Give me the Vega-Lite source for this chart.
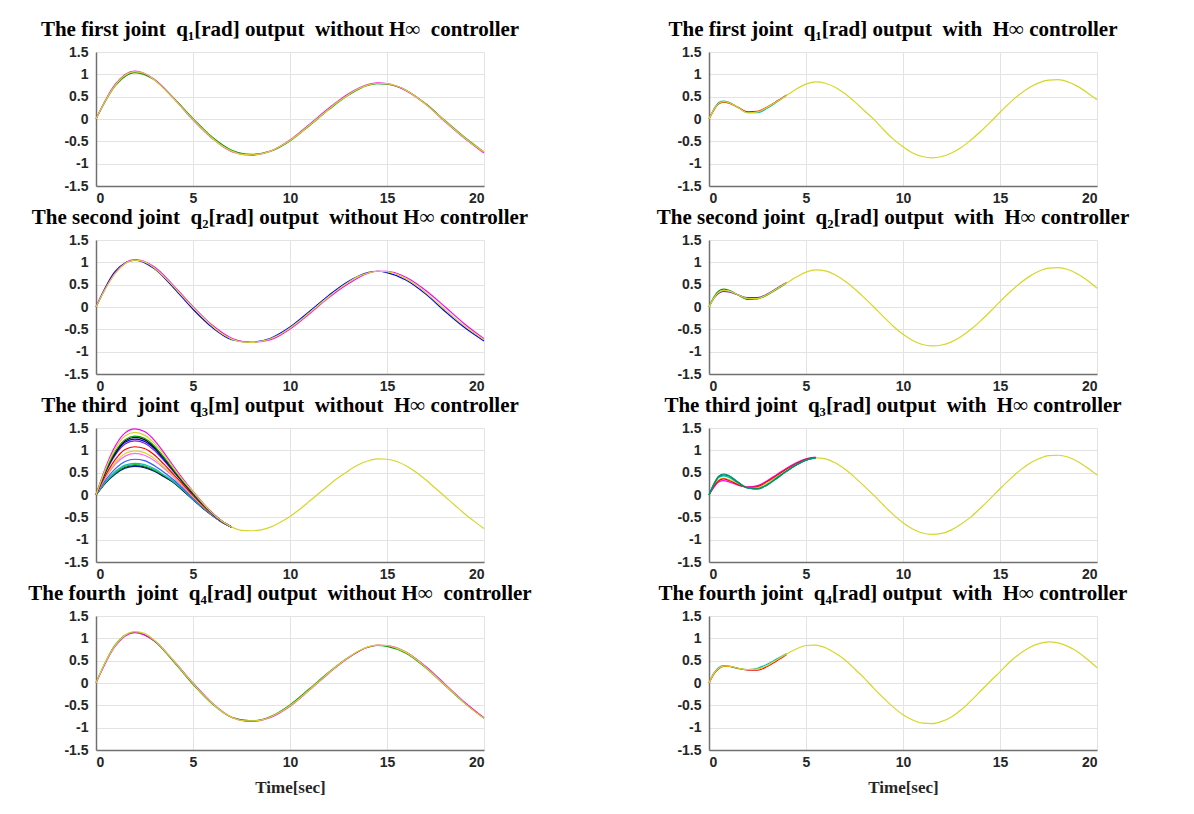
{
"$schema": "https://vega.github.io/schema/vega-lite/v6.json",
"background": "white",
"padding": {"left": 28, "top": 19, "right": 5, "bottom": 5},
"config": {
  "font": "Liberation Sans",
  "view": {"stroke": null},
  "title": {"font": "Liberation Serif", "fontWeight": "bold", "fontSize": 21, "color": "#000000", "offset": 5, "anchor": "middle", "dx": -10},
  "axis": {"labelFont": "Liberation Sans", "labelFontWeight": "bold", "labelFontSize": 14, "labelColor": "#262626", "domainColor": "#707070", "domainWidth": 1.5, "gridColor": "#e3e3e3", "gridWidth": 1, "tickSize": 0, "titleFont": "Liberation Serif", "titleFontWeight": "bold", "titleFontSize": 17, "titleColor": "#262626"},
  "axisX": {"labelPadding": 5, "titlePadding": 10},
  "axisY": {"labelPadding": 8},
  "line": {"strokeWidth": 1.2, "interpolate": "monotone"}
},
"datasets": {
"L1": [
{"s":"g","t":0,"v":0},{"s":"g","t":1,"v":0.75},{"s":"g","t":2,"v":1.04},{"s":"g","t":3,"v":0.88},{"s":"g","t":4,"v":0.47},{"s":"g","t":5,"v":0.01},{"s":"g","t":6,"v":-0.41},{"s":"g","t":7,"v":-0.70},{"s":"g","t":8,"v":-0.79},{"s":"g","t":9,"v":-0.72},{"s":"g","t":10,"v":-0.49},{"s":"g","t":11,"v":-0.15},{"s":"g","t":12,"v":0.21},{"s":"g","t":13,"v":0.53},{"s":"g","t":14,"v":0.75},{"s":"g","t":14.5,"v":0.79},{"s":"g","t":15,"v":0.78},{"s":"g","t":16,"v":0.64},{"s":"g","t":17,"v":0.34},{"s":"g","t":18,"v":-0.04},{"s":"g","t":19,"v":-0.41},{"s":"g","t":20,"v":-0.74},
{"s":"m","t":0,"v":0},{"s":"m","t":1,"v":0.78},{"s":"m","t":2,"v":1.07},{"s":"m","t":3,"v":0.89},{"s":"m","t":4,"v":0.46},{"s":"m","t":5,"v":-0.02},{"s":"m","t":6,"v":-0.44},{"s":"m","t":7,"v":-0.73},{"s":"m","t":8,"v":-0.81},{"s":"m","t":9,"v":-0.72},{"s":"m","t":10,"v":-0.47},{"s":"m","t":11,"v":-0.12},{"s":"m","t":12,"v":0.24},{"s":"m","t":13,"v":0.56},{"s":"m","t":14,"v":0.77},{"s":"m","t":14.5,"v":0.81},{"s":"m","t":15,"v":0.79},{"s":"m","t":16,"v":0.63},{"s":"m","t":17,"v":0.33},{"s":"m","t":18,"v":-0.06},{"s":"m","t":19,"v":-0.43},{"s":"m","t":20,"v":-0.76},
{"s":"y","t":0,"v":0},{"s":"y","t":0.5,"v":0.42},{"s":"y","t":1,"v":0.76},{"s":"y","t":1.5,"v":0.98},{"s":"y","t":2,"v":1.06},{"s":"y","t":2.5,"v":1.02},{"s":"y","t":3,"v":0.88},{"s":"y","t":3.5,"v":0.68},{"s":"y","t":4,"v":0.46},{"s":"y","t":4.5,"v":0.22},{"s":"y","t":5,"v":-0.01},{"s":"y","t":5.5,"v":-0.23},{"s":"y","t":6,"v":-0.43},{"s":"y","t":6.5,"v":-0.60},{"s":"y","t":7,"v":-0.72},{"s":"y","t":7.5,"v":-0.79},{"s":"y","t":8,"v":-0.80},{"s":"y","t":8.5,"v":-0.78},{"s":"y","t":9,"v":-0.72},{"s":"y","t":9.5,"v":-0.61},{"s":"y","t":10,"v":-0.48},{"s":"y","t":10.5,"v":-0.32},{"s":"y","t":11,"v":-0.14},{"s":"y","t":11.5,"v":0.04},{"s":"y","t":12,"v":0.22},{"s":"y","t":12.5,"v":0.39},{"s":"y","t":13,"v":0.54},{"s":"y","t":13.5,"v":0.67},{"s":"y","t":14,"v":0.76},{"s":"y","t":14.5,"v":0.80},{"s":"y","t":15,"v":0.79},{"s":"y","t":15.5,"v":0.74},{"s":"y","t":16,"v":0.64},{"s":"y","t":16.5,"v":0.50},{"s":"y","t":17,"v":0.33},{"s":"y","t":17.5,"v":0.14},{"s":"y","t":18,"v":-0.05},{"s":"y","t":18.5,"v":-0.24},{"s":"y","t":19,"v":-0.42},{"s":"y","t":19.5,"v":-0.59},{"s":"y","t":20,"v":-0.74}
],
"L2": [
{"s":"b","t":0,"v":0},{"s":"b","t":1,"v":0.80},{"s":"b","t":2,"v":1.05},{"s":"b","t":3,"v":0.86},{"s":"b","t":4,"v":0.43},{"s":"b","t":5,"v":-0.05},{"s":"b","t":6,"v":-0.46},{"s":"b","t":7,"v":-0.73},{"s":"b","t":8,"v":-0.79},{"s":"b","t":9,"v":-0.70},{"s":"b","t":10,"v":-0.45},{"s":"b","t":11,"v":-0.10},{"s":"b","t":12,"v":0.26},{"s":"b","t":13,"v":0.57},{"s":"b","t":14,"v":0.77},{"s":"b","t":14.5,"v":0.80},{"s":"b","t":15,"v":0.77},{"s":"b","t":16,"v":0.60},{"s":"b","t":17,"v":0.29},{"s":"b","t":18,"v":-0.10},{"s":"b","t":19,"v":-0.46},{"s":"b","t":20,"v":-0.76},
{"s":"m","t":0,"v":0},{"s":"m","t":1,"v":0.77},{"s":"m","t":2,"v":1.06},{"s":"m","t":3,"v":0.90},{"s":"m","t":4,"v":0.48},{"s":"m","t":5,"v":0.01},{"s":"m","t":6,"v":-0.41},{"s":"m","t":7,"v":-0.70},{"s":"m","t":8,"v":-0.79},{"s":"m","t":9,"v":-0.73},{"s":"m","t":10,"v":-0.49},{"s":"m","t":11,"v":-0.15},{"s":"m","t":12,"v":0.21},{"s":"m","t":13,"v":0.52},{"s":"m","t":14,"v":0.75},{"s":"m","t":14.5,"v":0.80},{"s":"m","t":15,"v":0.80},{"s":"m","t":16,"v":0.66},{"s":"m","t":17,"v":0.37},{"s":"m","t":18,"v":0.0},{"s":"m","t":19,"v":-0.38},{"s":"m","t":20,"v":-0.71},
{"s":"y","t":0,"v":0},{"s":"y","t":0.5,"v":0.42},{"s":"y","t":1,"v":0.76},{"s":"y","t":1.5,"v":0.97},{"s":"y","t":2,"v":1.05},{"s":"y","t":2.5,"v":1.01},{"s":"y","t":3,"v":0.88},{"s":"y","t":3.5,"v":0.68},{"s":"y","t":4,"v":0.46},{"s":"y","t":4.5,"v":0.22},{"s":"y","t":5,"v":-0.01},{"s":"y","t":5.5,"v":-0.23},{"s":"y","t":6,"v":-0.43},{"s":"y","t":6.5,"v":-0.60},{"s":"y","t":7,"v":-0.72},{"s":"y","t":7.5,"v":-0.78},{"s":"y","t":8,"v":-0.79},{"s":"y","t":8.5,"v":-0.77},{"s":"y","t":9,"v":-0.71},{"s":"y","t":9.5,"v":-0.61},{"s":"y","t":10,"v":-0.47},{"s":"y","t":10.5,"v":-0.31},{"s":"y","t":11,"v":-0.13},{"s":"y","t":11.5,"v":0.05},{"s":"y","t":12,"v":0.23},{"s":"y","t":12.5,"v":0.40},{"s":"y","t":13,"v":0.55},{"s":"y","t":13.5,"v":0.68},{"s":"y","t":14,"v":0.76},{"s":"y","t":14.5,"v":0.80},{"s":"y","t":15,"v":0.79},{"s":"y","t":15.5,"v":0.73},{"s":"y","t":16,"v":0.63},{"s":"y","t":16.5,"v":0.49},{"s":"y","t":17,"v":0.32},{"s":"y","t":17.5,"v":0.13},{"s":"y","t":18,"v":-0.06},{"s":"y","t":18.5,"v":-0.25},{"s":"y","t":19,"v":-0.42},{"s":"y","t":19.5,"v":-0.58},{"s":"y","t":20,"v":-0.73}
],
"L3": [
{"s":"b3","t":0,"v":0},{"s":"b3","t":0.5,"v":0.27},{"s":"b3","t":1,"v":0.47},{"s":"b3","t":1.5,"v":0.60},{"s":"b3","t":2,"v":0.64},{"s":"b3","t":2.5,"v":0.61},{"s":"b3","t":3,"v":0.53},{"s":"b3","t":3.5,"v":0.41},{"s":"b3","t":4,"v":0.28},{"s":"b3","t":4.5,"v":0.09},{"s":"b3","t":5,"v":-0.10},{"s":"b3","t":5.5,"v":-0.29},{"s":"b3","t":6,"v":-0.46},{"s":"b3","t":6.5,"v":-0.61},{"s":"b3","t":7,"v":-0.72},
{"s":"k2","t":0,"v":0},{"s":"k2","t":0.5,"v":0.28},{"s":"k2","t":1,"v":0.49},{"s":"k2","t":1.5,"v":0.62},{"s":"k2","t":2,"v":0.66},{"s":"k2","t":2.5,"v":0.63},{"s":"k2","t":3,"v":0.55},{"s":"k2","t":3.5,"v":0.42},{"s":"k2","t":4,"v":0.28},{"s":"k2","t":4.5,"v":0.10},{"s":"k2","t":5,"v":-0.10},{"s":"k2","t":5.5,"v":-0.29},{"s":"k2","t":6,"v":-0.46},{"s":"k2","t":6.5,"v":-0.61},{"s":"k2","t":7,"v":-0.72},
{"s":"g2","t":0,"v":0},{"s":"g2","t":0.5,"v":0.29},{"s":"g2","t":1,"v":0.50},{"s":"g2","t":1.5,"v":0.64},{"s":"g2","t":2,"v":0.68},{"s":"g2","t":2.5,"v":0.65},{"s":"g2","t":3,"v":0.56},{"s":"g2","t":3.5,"v":0.44},{"s":"g2","t":4,"v":0.29},{"s":"g2","t":4.5,"v":0.11},{"s":"g2","t":5,"v":-0.09},{"s":"g2","t":5.5,"v":-0.28},{"s":"g2","t":6,"v":-0.46},{"s":"g2","t":6.5,"v":-0.61},{"s":"g2","t":7,"v":-0.72},
{"s":"c","t":0,"v":0},{"s":"c","t":0.5,"v":0.30},{"s":"c","t":1,"v":0.53},{"s":"c","t":1.5,"v":0.67},{"s":"c","t":2,"v":0.71},{"s":"c","t":2.5,"v":0.68},{"s":"c","t":3,"v":0.59},{"s":"c","t":3.5,"v":0.45},{"s":"c","t":4,"v":0.31},{"s":"c","t":4.5,"v":0.12},{"s":"c","t":5,"v":-0.09},{"s":"c","t":5.5,"v":-0.28},{"s":"c","t":6,"v":-0.45},{"s":"c","t":6.5,"v":-0.61},{"s":"c","t":7,"v":-0.72},
{"s":"b2","t":0,"v":0},{"s":"b2","t":0.5,"v":0.34},{"s":"b2","t":1,"v":0.59},{"s":"b2","t":1.5,"v":0.75},{"s":"b2","t":2,"v":0.80},{"s":"b2","t":2.5,"v":0.77},{"s":"b2","t":3,"v":0.66},{"s":"b2","t":3.5,"v":0.51},{"s":"b2","t":4,"v":0.34},{"s":"b2","t":4.5,"v":0.14},{"s":"b2","t":5,"v":-0.07},{"s":"b2","t":5.5,"v":-0.27},{"s":"b2","t":6,"v":-0.45},{"s":"b2","t":6.5,"v":-0.61},{"s":"b2","t":7,"v":-0.72},
{"s":"m2","t":0,"v":0},{"s":"m2","t":0.5,"v":0.39},{"s":"m2","t":1,"v":0.69},{"s":"m2","t":1.5,"v":0.87},{"s":"m2","t":2,"v":0.93},{"s":"m2","t":2.5,"v":0.89},{"s":"m2","t":3,"v":0.77},{"s":"m2","t":3.5,"v":0.60},{"s":"m2","t":4,"v":0.40},{"s":"m2","t":4.5,"v":0.18},{"s":"m2","t":5,"v":-0.04},{"s":"m2","t":5.5,"v":-0.25},{"s":"m2","t":6,"v":-0.44},{"s":"m2","t":6.5,"v":-0.60},{"s":"m2","t":7,"v":-0.72},
{"s":"y2","t":0,"v":0},{"s":"y2","t":0.5,"v":0.42},{"s":"y2","t":1,"v":0.73},{"s":"y2","t":1.5,"v":0.93},{"s":"y2","t":2,"v":0.99},{"s":"y2","t":2.5,"v":0.95},{"s":"y2","t":3,"v":0.82},{"s":"y2","t":3.5,"v":0.63},{"s":"y2","t":4,"v":0.43},{"s":"y2","t":4.5,"v":0.20},{"s":"y2","t":5,"v":-0.03},{"s":"y2","t":5.5,"v":-0.24},{"s":"y2","t":6,"v":-0.43},{"s":"y2","t":6.5,"v":-0.60},{"s":"y2","t":7,"v":-0.72},
{"s":"r","t":0,"v":0},{"s":"r","t":0.5,"v":0.45},{"s":"r","t":1,"v":0.80},{"s":"r","t":1.5,"v":1.02},{"s":"r","t":2,"v":1.08},{"s":"r","t":2.5,"v":1.04},{"s":"r","t":3,"v":0.90},{"s":"r","t":3.5,"v":0.69},{"s":"r","t":4,"v":0.46},{"s":"r","t":4.5,"v":0.23},{"s":"r","t":5,"v":-0.01},{"s":"r","t":5.5,"v":-0.23},{"s":"r","t":6,"v":-0.43},{"s":"r","t":6.5,"v":-0.60},{"s":"r","t":7,"v":-0.72},
{"s":"p","t":0,"v":0},{"s":"p","t":0.5,"v":0.51},{"s":"p","t":1,"v":0.90},{"s":"p","t":1.5,"v":1.14},{"s":"p","t":2,"v":1.21},{"s":"p","t":2.5,"v":1.16},{"s":"p","t":3,"v":1.00},{"s":"p","t":3.5,"v":0.77},{"s":"p","t":4,"v":0.52},{"s":"p","t":4.5,"v":0.27},{"s":"p","t":5,"v":0.02},{"s":"p","t":5.5,"v":-0.21},{"s":"p","t":6,"v":-0.42},{"s":"p","t":6.5,"v":-0.60},{"s":"p","t":7,"v":-0.72},
{"s":"b","t":0,"v":0},{"s":"b","t":0.5,"v":0.53},{"s":"b","t":1,"v":0.93},{"s":"b","t":1.5,"v":1.18},{"s":"b","t":2,"v":1.25},{"s":"b","t":2.5,"v":1.20},{"s":"b","t":3,"v":1.04},{"s":"b","t":3.5,"v":0.80},{"s":"b","t":4,"v":0.54},{"s":"b","t":4.5,"v":0.28},{"s":"b","t":5,"v":0.03},{"s":"b","t":5.5,"v":-0.20},{"s":"b","t":6,"v":-0.42},{"s":"b","t":6.5,"v":-0.60},{"s":"b","t":7,"v":-0.72},
{"s":"k","t":0,"v":0},{"s":"k","t":0.5,"v":0.54},{"s":"k","t":1,"v":0.95},{"s":"k","t":1.5,"v":1.21},{"s":"k","t":2,"v":1.29},{"s":"k","t":2.5,"v":1.24},{"s":"k","t":3,"v":1.07},{"s":"k","t":3.5,"v":0.83},{"s":"k","t":4,"v":0.55},{"s":"k","t":4.5,"v":0.29},{"s":"k","t":5,"v":0.04},{"s":"k","t":5.5,"v":-0.20},{"s":"k","t":6,"v":-0.41},{"s":"k","t":6.5,"v":-0.59},{"s":"k","t":7,"v":-0.72},
{"s":"g","t":0,"v":0},{"s":"g","t":0.5,"v":0.55},{"s":"g","t":1,"v":0.98},{"s":"g","t":1.5,"v":1.24},{"s":"g","t":2,"v":1.32},{"s":"g","t":2.5,"v":1.27},{"s":"g","t":3,"v":1.10},{"s":"g","t":3.5,"v":0.84},{"s":"g","t":4,"v":0.57},{"s":"g","t":4.5,"v":0.30},{"s":"g","t":5,"v":0.05},{"s":"g","t":5.5,"v":-0.19},{"s":"g","t":6,"v":-0.41},{"s":"g","t":6.5,"v":-0.59},{"s":"g","t":7,"v":-0.72},
{"s":"m","t":0,"v":0},{"s":"m","t":0.5,"v":0.62},{"s":"m","t":1,"v":1.10},{"s":"m","t":1.5,"v":1.39},{"s":"m","t":2,"v":1.48},{"s":"m","t":2.5,"v":1.42},{"s":"m","t":3,"v":1.23},{"s":"m","t":3.5,"v":0.95},{"s":"m","t":4,"v":0.64},{"s":"m","t":4.5,"v":0.35},{"s":"m","t":5,"v":0.08},{"s":"m","t":5.5,"v":-0.17},{"s":"m","t":6,"v":-0.40},{"s":"m","t":6.5,"v":-0.59},{"s":"m","t":7,"v":-0.72},
{"s":"y","t":0,"v":0},{"s":"y","t":0.5,"v":0.59},{"s":"y","t":1,"v":1.04},{"s":"y","t":1.5,"v":1.32},{"s":"y","t":2,"v":1.40},{"s":"y","t":2.5,"v":1.34},{"s":"y","t":3,"v":1.16},{"s":"y","t":3.5,"v":0.90},{"s":"y","t":4,"v":0.60},{"s":"y","t":4.5,"v":0.32},{"s":"y","t":5,"v":0.07},{"s":"y","t":5.5,"v":-0.18},{"s":"y","t":6,"v":-0.41},{"s":"y","t":6.5,"v":-0.59},{"s":"y","t":7,"v":-0.72},{"s":"y","t":7.5,"v":-0.79},{"s":"y","t":8,"v":-0.80},{"s":"y","t":8.5,"v":-0.78},{"s":"y","t":9,"v":-0.72},{"s":"y","t":9.5,"v":-0.61},{"s":"y","t":10,"v":-0.48},{"s":"y","t":10.5,"v":-0.32},{"s":"y","t":11,"v":-0.14},{"s":"y","t":11.5,"v":0.04},{"s":"y","t":12,"v":0.22},{"s":"y","t":12.5,"v":0.39},{"s":"y","t":13,"v":0.54},{"s":"y","t":13.5,"v":0.67},{"s":"y","t":14,"v":0.76},{"s":"y","t":14.5,"v":0.81},{"s":"y","t":15,"v":0.80},{"s":"y","t":15.5,"v":0.75},{"s":"y","t":16,"v":0.65},{"s":"y","t":16.5,"v":0.51},{"s":"y","t":17,"v":0.34},{"s":"y","t":17.5,"v":0.15},{"s":"y","t":18,"v":-0.04},{"s":"y","t":18.5,"v":-0.23},{"s":"y","t":19,"v":-0.42},{"s":"y","t":19.5,"v":-0.59},{"s":"y","t":20,"v":-0.75}
],
"L4": [
{"s":"g","t":0,"v":0},{"s":"g","t":1,"v":0.86},{"s":"g","t":2,"v":1.14},{"s":"g","t":3,"v":0.94},{"s":"g","t":4,"v":0.48},{"s":"g","t":5,"v":-0.03},{"s":"g","t":6,"v":-0.47},{"s":"g","t":7,"v":-0.77},{"s":"g","t":8,"v":-0.85},{"s":"g","t":9,"v":-0.75},{"s":"g","t":10,"v":-0.49},{"s":"g","t":11,"v":-0.13},{"s":"g","t":12,"v":0.24},{"s":"g","t":13,"v":0.57},{"s":"g","t":14,"v":0.80},{"s":"g","t":14.5,"v":0.84},{"s":"g","t":15,"v":0.82},{"s":"g","t":16,"v":0.66},{"s":"g","t":17,"v":0.34},{"s":"g","t":18,"v":-0.06},{"s":"g","t":19,"v":-0.45},{"s":"g","t":20,"v":-0.79},
{"s":"m","t":0,"v":0},{"s":"m","t":1,"v":0.83},{"s":"m","t":2,"v":1.13},{"s":"m","t":3,"v":0.95},{"s":"m","t":4,"v":0.50},{"s":"m","t":5,"v":0.0},{"s":"m","t":6,"v":-0.45},{"s":"m","t":7,"v":-0.77},{"s":"m","t":8,"v":-0.86},{"s":"m","t":9,"v":-0.77},{"s":"m","t":10,"v":-0.52},{"s":"m","t":11,"v":-0.16},{"s":"m","t":12,"v":0.22},{"s":"m","t":13,"v":0.56},{"s":"m","t":14,"v":0.80},{"s":"m","t":14.5,"v":0.85},{"s":"m","t":15,"v":0.84},{"s":"m","t":16,"v":0.69},{"s":"m","t":17,"v":0.37},{"s":"m","t":18,"v":-0.03},{"s":"m","t":19,"v":-0.43},{"s":"m","t":20,"v":-0.78},
{"s":"y","t":0,"v":0},{"s":"y","t":0.5,"v":0.48},{"s":"y","t":1,"v":0.85},{"s":"y","t":1.5,"v":1.07},{"s":"y","t":2,"v":1.15},{"s":"y","t":2.5,"v":1.11},{"s":"y","t":3,"v":0.96},{"s":"y","t":3.5,"v":0.74},{"s":"y","t":4,"v":0.50},{"s":"y","t":4.5,"v":0.24},{"s":"y","t":5,"v":-0.01},{"s":"y","t":5.5,"v":-0.25},{"s":"y","t":6,"v":-0.46},{"s":"y","t":6.5,"v":-0.64},{"s":"y","t":7,"v":-0.77},{"s":"y","t":7.5,"v":-0.84},{"s":"y","t":8,"v":-0.85},{"s":"y","t":8.5,"v":-0.83},{"s":"y","t":9,"v":-0.76},{"s":"y","t":9.5,"v":-0.65},{"s":"y","t":10,"v":-0.51},{"s":"y","t":10.5,"v":-0.34},{"s":"y","t":11,"v":-0.15},{"s":"y","t":11.5,"v":0.04},{"s":"y","t":12,"v":0.23},{"s":"y","t":12.5,"v":0.41},{"s":"y","t":13,"v":0.57},{"s":"y","t":13.5,"v":0.71},{"s":"y","t":14,"v":0.81},{"s":"y","t":14.5,"v":0.85},{"s":"y","t":15,"v":0.84},{"s":"y","t":15.5,"v":0.78},{"s":"y","t":16,"v":0.68},{"s":"y","t":16.5,"v":0.53},{"s":"y","t":17,"v":0.35},{"s":"y","t":17.5,"v":0.15},{"s":"y","t":18,"v":-0.05},{"s":"y","t":18.5,"v":-0.25},{"s":"y","t":19,"v":-0.45},{"s":"y","t":19.5,"v":-0.63},{"s":"y","t":20,"v":-0.79}
],
"R1": [
{"s":"c","t":0,"v":0},{"s":"c","t":0.25,"v":0.22},{"s":"c","t":0.5,"v":0.37},{"s":"c","t":0.75,"v":0.40},{"s":"c","t":1,"v":0.38},{"s":"c","t":1.5,"v":0.26},{"s":"c","t":2,"v":0.14},{"s":"c","t":2.5,"v":0.14},{"s":"c","t":3,"v":0.24},{"s":"c","t":3.5,"v":0.38},{"s":"c","t":4,"v":0.53},
{"s":"r","t":0,"v":0},{"s":"r","t":0.25,"v":0.20},{"s":"r","t":0.5,"v":0.34},{"s":"r","t":0.75,"v":0.38},{"s":"r","t":1,"v":0.36},{"s":"r","t":1.5,"v":0.26},{"s":"r","t":2,"v":0.16},{"s":"r","t":2.5,"v":0.17},{"s":"r","t":3,"v":0.27},{"s":"r","t":3.5,"v":0.40},{"s":"r","t":4,"v":0.54},
{"s":"y","t":0,"v":0},{"s":"y","t":0.25,"v":0.21},{"s":"y","t":0.5,"v":0.35},{"s":"y","t":0.75,"v":0.39},{"s":"y","t":1,"v":0.37},{"s":"y","t":1.5,"v":0.26},{"s":"y","t":2,"v":0.14},{"s":"y","t":2.5,"v":0.16},{"s":"y","t":3,"v":0.26},{"s":"y","t":3.5,"v":0.39},{"s":"y","t":4,"v":0.53},{"s":"y","t":4.5,"v":0.67},{"s":"y","t":5,"v":0.78},{"s":"y","t":5.5,"v":0.83},{"s":"y","t":6,"v":0.80},{"s":"y","t":6.5,"v":0.71},{"s":"y","t":7,"v":0.57},{"s":"y","t":7.5,"v":0.39},{"s":"y","t":8,"v":0.19},{"s":"y","t":8.5,"v":-0.01},{"s":"y","t":9,"v":-0.24},{"s":"y","t":9.5,"v":-0.45},{"s":"y","t":10,"v":-0.62},{"s":"y","t":10.5,"v":-0.76},{"s":"y","t":11,"v":-0.84},{"s":"y","t":11.5,"v":-0.87},{"s":"y","t":12,"v":-0.84},{"s":"y","t":12.5,"v":-0.76},{"s":"y","t":13,"v":-0.64},{"s":"y","t":13.5,"v":-0.47},{"s":"y","t":14,"v":-0.28},{"s":"y","t":14.5,"v":-0.07},{"s":"y","t":15,"v":0.15},{"s":"y","t":15.5,"v":0.36},{"s":"y","t":16,"v":0.55},{"s":"y","t":16.5,"v":0.70},{"s":"y","t":17,"v":0.81},{"s":"y","t":17.5,"v":0.87},{"s":"y","t":18,"v":0.88},{"s":"y","t":18.5,"v":0.83},{"s":"y","t":19,"v":0.73},{"s":"y","t":19.5,"v":0.59},{"s":"y","t":20,"v":0.43}
],
"R2": [
{"s":"g","t":0,"v":0},{"s":"g","t":0.25,"v":0.22},{"s":"g","t":0.5,"v":0.36},{"s":"g","t":0.75,"v":0.40},{"s":"g","t":1,"v":0.38},{"s":"g","t":1.5,"v":0.27},{"s":"g","t":2,"v":0.17},{"s":"g","t":2.5,"v":0.18},{"s":"g","t":3,"v":0.27},{"s":"g","t":3.5,"v":0.40},{"s":"g","t":4,"v":0.54},
{"s":"p","t":0,"v":0},{"s":"p","t":0.25,"v":0.19},{"s":"p","t":0.5,"v":0.31},{"s":"p","t":0.75,"v":0.35},{"s":"p","t":1,"v":0.34},{"s":"p","t":1.5,"v":0.27},{"s":"p","t":2,"v":0.21},{"s":"p","t":2.5,"v":0.21},{"s":"p","t":3,"v":0.29},{"s":"p","t":3.5,"v":0.42},{"s":"p","t":4,"v":0.55},
{"s":"y","t":0,"v":0},{"s":"y","t":0.25,"v":0.20},{"s":"y","t":0.5,"v":0.33},{"s":"y","t":0.75,"v":0.37},{"s":"y","t":1,"v":0.36},{"s":"y","t":1.5,"v":0.27},{"s":"y","t":2,"v":0.19},{"s":"y","t":2.5,"v":0.19},{"s":"y","t":3,"v":0.28},{"s":"y","t":3.5,"v":0.41},{"s":"y","t":4,"v":0.54},{"s":"y","t":4.5,"v":0.67},{"s":"y","t":5,"v":0.78},{"s":"y","t":5.5,"v":0.83},{"s":"y","t":6,"v":0.81},{"s":"y","t":6.5,"v":0.72},{"s":"y","t":7,"v":0.58},{"s":"y","t":7.5,"v":0.41},{"s":"y","t":8,"v":0.21},{"s":"y","t":8.5,"v":0.0},{"s":"y","t":9,"v":-0.22},{"s":"y","t":9.5,"v":-0.43},{"s":"y","t":10,"v":-0.61},{"s":"y","t":10.5,"v":-0.75},{"s":"y","t":11,"v":-0.84},{"s":"y","t":11.5,"v":-0.87},{"s":"y","t":12,"v":-0.85},{"s":"y","t":12.5,"v":-0.78},{"s":"y","t":13,"v":-0.66},{"s":"y","t":13.5,"v":-0.50},{"s":"y","t":14,"v":-0.31},{"s":"y","t":14.5,"v":-0.10},{"s":"y","t":15,"v":0.12},{"s":"y","t":15.5,"v":0.33},{"s":"y","t":16,"v":0.52},{"s":"y","t":16.5,"v":0.68},{"s":"y","t":17,"v":0.80},{"s":"y","t":17.5,"v":0.87},{"s":"y","t":18,"v":0.88},{"s":"y","t":18.5,"v":0.84},{"s":"y","t":19,"v":0.74},{"s":"y","t":19.5,"v":0.60},{"s":"y","t":20,"v":0.42}
],
"R3": [
{"s":"y","t":0,"v":0},{"s":"y","t":0.25,"v":0.20},{"s":"y","t":0.5,"v":0.34},{"s":"y","t":0.75,"v":0.38},{"s":"y","t":1,"v":0.35},{"s":"y","t":1.5,"v":0.25},{"s":"y","t":2,"v":0.17},{"s":"y","t":2.5,"v":0.17},{"s":"y","t":3,"v":0.27},{"s":"y","t":3.5,"v":0.41},{"s":"y","t":4,"v":0.55},{"s":"y","t":4.5,"v":0.68},{"s":"y","t":5,"v":0.78},{"s":"y","t":5.5,"v":0.83},{"s":"y","t":6,"v":0.81},{"s":"y","t":6.5,"v":0.72},{"s":"y","t":7,"v":0.58},{"s":"y","t":7.5,"v":0.40},{"s":"y","t":8,"v":0.20},{"s":"y","t":8.5,"v":-0.01},{"s":"y","t":9,"v":-0.23},{"s":"y","t":9.5,"v":-0.44},{"s":"y","t":10,"v":-0.62},{"s":"y","t":10.5,"v":-0.76},{"s":"y","t":11,"v":-0.85},{"s":"y","t":11.5,"v":-0.88},{"s":"y","t":12,"v":-0.86},{"s":"y","t":12.5,"v":-0.78},{"s":"y","t":13,"v":-0.65},{"s":"y","t":13.5,"v":-0.49},{"s":"y","t":14,"v":-0.29},{"s":"y","t":14.5,"v":-0.08},{"s":"y","t":15,"v":0.14},{"s":"y","t":15.5,"v":0.35},{"s":"y","t":16,"v":0.54},{"s":"y","t":16.5,"v":0.70},{"s":"y","t":17,"v":0.81},{"s":"y","t":17.5,"v":0.88},{"s":"y","t":18,"v":0.89},{"s":"y","t":18.5,"v":0.85},{"s":"y","t":19,"v":0.75},{"s":"y","t":19.5,"v":0.61},{"s":"y","t":20,"v":0.45},
{"s":"m","t":0,"v":0},{"s":"m","t":0.25,"v":0.17},{"s":"m","t":0.5,"v":0.29},{"s":"m","t":0.75,"v":0.32},{"s":"m","t":1,"v":0.30},{"s":"m","t":1.5,"v":0.22},{"s":"m","t":2,"v":0.18},{"s":"m","t":2.5,"v":0.21},{"s":"m","t":3,"v":0.32},{"s":"m","t":3.5,"v":0.46},{"s":"m","t":4,"v":0.60},{"s":"m","t":4.5,"v":0.72},{"s":"m","t":5,"v":0.81},{"s":"m","t":5.5,"v":0.85},
{"s":"r","t":0,"v":0},{"s":"r","t":0.25,"v":0.19},{"s":"r","t":0.5,"v":0.32},{"s":"r","t":0.75,"v":0.36},{"s":"r","t":1,"v":0.33},{"s":"r","t":1.5,"v":0.23},{"s":"r","t":2,"v":0.17},{"s":"r","t":2.5,"v":0.19},{"s":"r","t":3,"v":0.30},{"s":"r","t":3.5,"v":0.44},{"s":"r","t":4,"v":0.58},{"s":"r","t":4.5,"v":0.70},{"s":"r","t":5,"v":0.80},{"s":"r","t":5.5,"v":0.84},
{"s":"c","t":0,"v":0},{"s":"c","t":0.25,"v":0.23},{"s":"c","t":0.5,"v":0.39},{"s":"c","t":0.75,"v":0.43},{"s":"c","t":1,"v":0.40},{"s":"c","t":1.5,"v":0.27},{"s":"c","t":2,"v":0.16},{"s":"c","t":2.5,"v":0.15},{"s":"c","t":3,"v":0.24},{"s":"c","t":3.5,"v":0.39},{"s":"c","t":4,"v":0.54},{"s":"c","t":4.5,"v":0.68},{"s":"c","t":5,"v":0.78},{"s":"c","t":5.5,"v":0.83},
{"s":"g","t":0,"v":0},{"s":"g","t":0.25,"v":0.24},{"s":"g","t":0.5,"v":0.41},{"s":"g","t":0.75,"v":0.45},{"s":"g","t":1,"v":0.43},{"s":"g","t":1.5,"v":0.28},{"s":"g","t":2,"v":0.16},{"s":"g","t":2.5,"v":0.14},{"s":"g","t":3,"v":0.23},{"s":"g","t":3.5,"v":0.38},{"s":"g","t":4,"v":0.53},{"s":"g","t":4.5,"v":0.67},{"s":"g","t":5,"v":0.78},{"s":"g","t":5.5,"v":0.83},
{"s":"t","t":0,"v":0},{"s":"t","t":0.25,"v":0.25},{"s":"t","t":0.5,"v":0.42},{"s":"t","t":0.75,"v":0.47},{"s":"t","t":1,"v":0.44},{"s":"t","t":1.5,"v":0.29},{"s":"t","t":2,"v":0.16},{"s":"t","t":2.5,"v":0.13},{"s":"t","t":3,"v":0.22},{"s":"t","t":3.5,"v":0.37},{"s":"t","t":4,"v":0.53},{"s":"t","t":4.5,"v":0.67},{"s":"t","t":5,"v":0.78},{"s":"t","t":5.5,"v":0.83}
],
"R4": [
{"s":"c","t":0,"v":0},{"s":"c","t":0.25,"v":0.22},{"s":"c","t":0.5,"v":0.35},{"s":"c","t":0.75,"v":0.39},{"s":"c","t":1,"v":0.38},{"s":"c","t":1.5,"v":0.32},{"s":"c","t":2,"v":0.30},{"s":"c","t":2.5,"v":0.33},{"s":"c","t":3,"v":0.42},{"s":"c","t":3.5,"v":0.54},{"s":"c","t":4,"v":0.66},
{"s":"r","t":0,"v":0},{"s":"r","t":0.25,"v":0.20},{"s":"r","t":0.5,"v":0.32},{"s":"r","t":0.75,"v":0.37},{"s":"r","t":1,"v":0.37},{"s":"r","t":1.5,"v":0.33},{"s":"r","t":2,"v":0.29},{"s":"r","t":2.5,"v":0.29},{"s":"r","t":3,"v":0.37},{"s":"r","t":3.5,"v":0.50},{"s":"r","t":4,"v":0.64},
{"s":"y","t":0,"v":0},{"s":"y","t":0.25,"v":0.21},{"s":"y","t":0.5,"v":0.33},{"s":"y","t":0.75,"v":0.38},{"s":"y","t":1,"v":0.38},{"s":"y","t":1.5,"v":0.33},{"s":"y","t":2,"v":0.30},{"s":"y","t":2.5,"v":0.31},{"s":"y","t":3,"v":0.39},{"s":"y","t":3.5,"v":0.52},{"s":"y","t":4,"v":0.65},{"s":"y","t":4.5,"v":0.76},{"s":"y","t":5,"v":0.84},{"s":"y","t":5.5,"v":0.85},{"s":"y","t":6,"v":0.79},{"s":"y","t":6.5,"v":0.67},{"s":"y","t":7,"v":0.52},{"s":"y","t":7.5,"v":0.32},{"s":"y","t":8,"v":0.11},{"s":"y","t":8.5,"v":-0.12},{"s":"y","t":9,"v":-0.34},{"s":"y","t":9.5,"v":-0.54},{"s":"y","t":10,"v":-0.71},{"s":"y","t":10.5,"v":-0.83},{"s":"y","t":11,"v":-0.90},{"s":"y","t":11.5,"v":-0.91},{"s":"y","t":12,"v":-0.86},{"s":"y","t":12.5,"v":-0.76},{"s":"y","t":13,"v":-0.60},{"s":"y","t":13.5,"v":-0.40},{"s":"y","t":14,"v":-0.18},{"s":"y","t":14.5,"v":0.04},{"s":"y","t":15,"v":0.25},{"s":"y","t":15.5,"v":0.47},{"s":"y","t":16,"v":0.65},{"s":"y","t":16.5,"v":0.79},{"s":"y","t":17,"v":0.88},{"s":"y","t":17.5,"v":0.92},{"s":"y","t":18,"v":0.90},{"s":"y","t":18.5,"v":0.82},{"s":"y","t":19,"v":0.70},{"s":"y","t":19.5,"v":0.53},{"s":"y","t":20,"v":0.34}
]
},
"columns": 2,
"bounds": "flush",
"spacing": {"row": 54, "column": 225},
"concat": [
{"data": {"name": "L1"}, "title": "The first joint \u00a0q₁[rad] output \u00a0without H∞ \u00a0controller", "width": 388, "height": 134, "mark": "line",
 "encoding": {
  "x": {"field": "t", "type": "quantitative", "scale": {"domain": [0, 20], "nice": false}, "axis": {"values": [0, 5, 10, 15, 20], "title": null}},
  "y": {"field": "v", "type": "quantitative", "scale": {"domain": [-1.5, 1.5], "nice": false}, "axis": {"values": [-1.5, -1, -0.5, 0, 0.5, 1, 1.5], "title": null, "labelExpr": "datum.value < 0 ? '-' + format(-datum.value, '~g') : format(datum.value, '~g')"}},
  "color": {"field": "s", "type": "nominal", "legend": null, "scale": {"domain": ["g","b","p","k","k2","b2","b3","c","t","r","m","m2","g2","y2","y"], "range": ["#00a000","#0000ff","#8020c0","#000000","#1a1a1a","#3a5aff","#0020b0","#00c0c0","#00907e","#ff0000","#ff00ff","#ff66ff","#20c020","#d8d820","#d6d62a"]}}
 }},
{"data": {"name": "R1"}, "title": "The first joint \u00a0q₁[rad] output \u00a0with \u00a0H∞ controller", "width": 388, "height": 134, "mark": "line",
 "encoding": {
  "x": {"field": "t", "type": "quantitative", "scale": {"domain": [0, 20], "nice": false}, "axis": {"values": [0, 5, 10, 15, 20], "title": null}},
  "y": {"field": "v", "type": "quantitative", "scale": {"domain": [-1.5, 1.5], "nice": false}, "axis": {"values": [-1.5, -1, -0.5, 0, 0.5, 1, 1.5], "title": null, "labelExpr": "datum.value < 0 ? '-' + format(-datum.value, '~g') : format(datum.value, '~g')"}},
  "color": {"field": "s", "type": "nominal", "legend": null, "scale": {"domain": ["g","b","p","k","k2","b2","b3","c","t","r","m","m2","g2","y2","y"], "range": ["#00a000","#0000ff","#8020c0","#000000","#1a1a1a","#3a5aff","#0020b0","#00c0c0","#00907e","#ff0000","#ff00ff","#ff66ff","#20c020","#d8d820","#d6d62a"]}}
 }},
{"data": {"name": "L2"}, "title": "The second joint \u00a0q₂[rad] output \u00a0without H∞ controller", "width": 388, "height": 134, "mark": "line",
 "encoding": {
  "x": {"field": "t", "type": "quantitative", "scale": {"domain": [0, 20], "nice": false}, "axis": {"values": [0, 5, 10, 15, 20], "title": null}},
  "y": {"field": "v", "type": "quantitative", "scale": {"domain": [-1.5, 1.5], "nice": false}, "axis": {"values": [-1.5, -1, -0.5, 0, 0.5, 1, 1.5], "title": null, "labelExpr": "datum.value < 0 ? '-' + format(-datum.value, '~g') : format(datum.value, '~g')"}},
  "color": {"field": "s", "type": "nominal", "legend": null, "scale": {"domain": ["g","b","p","k","k2","b2","b3","c","t","r","m","m2","g2","y2","y"], "range": ["#00a000","#0000ff","#8020c0","#000000","#1a1a1a","#3a5aff","#0020b0","#00c0c0","#00907e","#ff0000","#ff00ff","#ff66ff","#20c020","#d8d820","#d6d62a"]}}
 }},
{"data": {"name": "R2"}, "title": "The second joint \u00a0q₂[rad] output \u00a0with \u00a0H∞ controller", "width": 388, "height": 134, "mark": "line",
 "encoding": {
  "x": {"field": "t", "type": "quantitative", "scale": {"domain": [0, 20], "nice": false}, "axis": {"values": [0, 5, 10, 15, 20], "title": null}},
  "y": {"field": "v", "type": "quantitative", "scale": {"domain": [-1.5, 1.5], "nice": false}, "axis": {"values": [-1.5, -1, -0.5, 0, 0.5, 1, 1.5], "title": null, "labelExpr": "datum.value < 0 ? '-' + format(-datum.value, '~g') : format(datum.value, '~g')"}},
  "color": {"field": "s", "type": "nominal", "legend": null, "scale": {"domain": ["g","b","p","k","k2","b2","b3","c","t","r","m","m2","g2","y2","y"], "range": ["#00a000","#0000ff","#8020c0","#000000","#1a1a1a","#3a5aff","#0020b0","#00c0c0","#00907e","#ff0000","#ff00ff","#ff66ff","#20c020","#d8d820","#d6d62a"]}}
 }},
{"data": {"name": "L3"}, "title": "The third \u00a0joint \u00a0q₃[m] output \u00a0without \u00a0H∞ controller", "width": 388, "height": 134, "mark": "line",
 "encoding": {
  "x": {"field": "t", "type": "quantitative", "scale": {"domain": [0, 20], "nice": false}, "axis": {"values": [0, 5, 10, 15, 20], "title": null}},
  "y": {"field": "v", "type": "quantitative", "scale": {"domain": [-1.5, 1.5], "nice": false}, "axis": {"values": [-1.5, -1, -0.5, 0, 0.5, 1, 1.5], "title": null, "labelExpr": "datum.value < 0 ? '-' + format(-datum.value, '~g') : format(datum.value, '~g')"}},
  "color": {"field": "s", "type": "nominal", "legend": null, "scale": {"domain": ["g","b","p","k","k2","b2","b3","c","t","r","m","m2","g2","y2","y"], "range": ["#00a000","#0000ff","#8020c0","#000000","#1a1a1a","#3a5aff","#0020b0","#00c0c0","#00907e","#ff0000","#ff00ff","#ff66ff","#20c020","#d8d820","#d6d62a"]}}
 }},
{"data": {"name": "R3"}, "title": "The third joint \u00a0q₃[rad] output \u00a0with \u00a0H∞ controller", "width": 388, "height": 134, "mark": "line",
 "encoding": {
  "x": {"field": "t", "type": "quantitative", "scale": {"domain": [0, 20], "nice": false}, "axis": {"values": [0, 5, 10, 15, 20], "title": null}},
  "y": {"field": "v", "type": "quantitative", "scale": {"domain": [-1.5, 1.5], "nice": false}, "axis": {"values": [-1.5, -1, -0.5, 0, 0.5, 1, 1.5], "title": null, "labelExpr": "datum.value < 0 ? '-' + format(-datum.value, '~g') : format(datum.value, '~g')"}},
  "color": {"field": "s", "type": "nominal", "legend": null, "scale": {"domain": ["g","b","p","k","k2","b2","b3","c","t","r","m","m2","g2","y2","y"], "range": ["#00a000","#0000ff","#8020c0","#000000","#1a1a1a","#3a5aff","#0020b0","#00c0c0","#00907e","#ff0000","#ff00ff","#ff66ff","#20c020","#d8d820","#d6d62a"]}}
 }},
{"data": {"name": "L4"}, "title": "The fourth \u00a0joint \u00a0q₄[rad] output \u00a0without H∞ \u00a0controller", "width": 388, "height": 134, "mark": "line",
 "encoding": {
  "x": {"field": "t", "type": "quantitative", "scale": {"domain": [0, 20], "nice": false}, "axis": {"values": [0, 5, 10, 15, 20], "title": "Time[sec]"}},
  "y": {"field": "v", "type": "quantitative", "scale": {"domain": [-1.5, 1.5], "nice": false}, "axis": {"values": [-1.5, -1, -0.5, 0, 0.5, 1, 1.5], "title": null, "labelExpr": "datum.value < 0 ? '-' + format(-datum.value, '~g') : format(datum.value, '~g')"}},
  "color": {"field": "s", "type": "nominal", "legend": null, "scale": {"domain": ["g","b","p","k","k2","b2","b3","c","t","r","m","m2","g2","y2","y"], "range": ["#00a000","#0000ff","#8020c0","#000000","#1a1a1a","#3a5aff","#0020b0","#00c0c0","#00907e","#ff0000","#ff00ff","#ff66ff","#20c020","#d8d820","#d6d62a"]}}
 }},
{"data": {"name": "R4"}, "title": "The fourth joint \u00a0q₄[rad] output \u00a0with \u00a0H∞ controller", "width": 388, "height": 134, "mark": "line",
 "encoding": {
  "x": {"field": "t", "type": "quantitative", "scale": {"domain": [0, 20], "nice": false}, "axis": {"values": [0, 5, 10, 15, 20], "title": "Time[sec]"}},
  "y": {"field": "v", "type": "quantitative", "scale": {"domain": [-1.5, 1.5], "nice": false}, "axis": {"values": [-1.5, -1, -0.5, 0, 0.5, 1, 1.5], "title": null, "labelExpr": "datum.value < 0 ? '-' + format(-datum.value, '~g') : format(datum.value, '~g')"}},
  "color": {"field": "s", "type": "nominal", "legend": null, "scale": {"domain": ["g","b","p","k","k2","b2","b3","c","t","r","m","m2","g2","y2","y"], "range": ["#00a000","#0000ff","#8020c0","#000000","#1a1a1a","#3a5aff","#0020b0","#00c0c0","#00907e","#ff0000","#ff00ff","#ff66ff","#20c020","#d8d820","#d6d62a"]}}
 }}
]
}
